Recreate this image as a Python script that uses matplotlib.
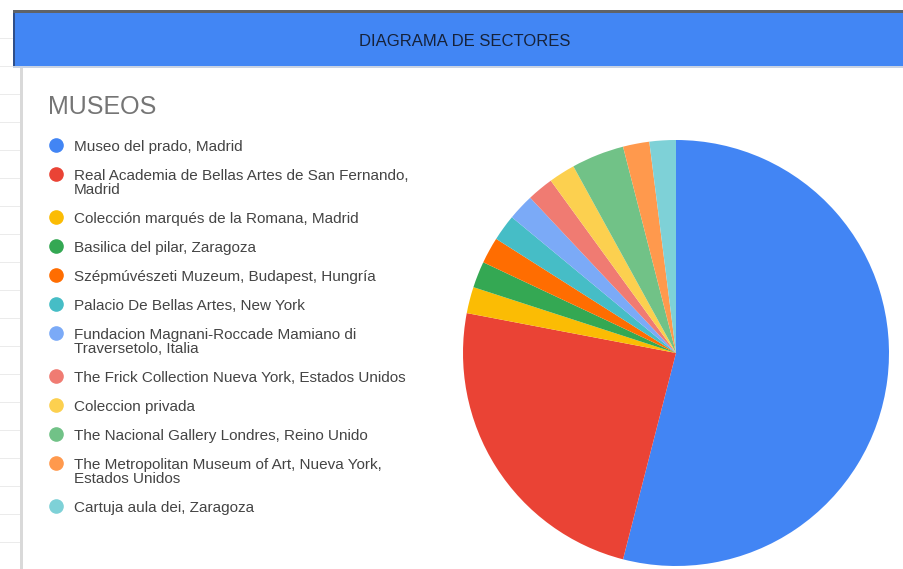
import matplotlib
matplotlib.use("Agg")
import matplotlib.pyplot as plt
from matplotlib.patches import Rectangle

header_title = "DIAGRAMA DE SECTORES"
chart_title = "MUSEOS"
labels = [
    "Museo del prado, Madrid",
    "Real Academia de Bellas Artes de San Fernando,\nMadrid",
    "Colección marqués de la Romana, Madrid",
    "Basilica del pilar, Zaragoza",
    "Szépmúvészeti Muzeum, Budapest, Hungría",
    "Palacio De Bellas Artes, New York",
    "Fundacion Magnani-Roccade Mamiano di\nTraversetolo, Italia",
    "The Frick Collection Nueva York, Estados Unidos",
    "Coleccion privada",
    "The Nacional Gallery Londres, Reino Unido",
    "The Metropolitan Museum of Art, Nueva York,\nEstados Unidos",
    "Cartuja aula dei, Zaragoza",
]
values = [27, 12, 1, 1, 1, 1, 1, 1, 1, 2, 1, 1]
colors = ["#4285F4", "#EA4335", "#FBBC04", "#34A853", "#FF6D01", "#46BDC6",
          "#7BAAF7", "#F07B72", "#FCD04F", "#71C287", "#FF994D", "#7ED1D7"]

W, H = 904, 569
fig = plt.figure(figsize=(W / 100, H / 100), dpi=100)
fig.patch.set_facecolor("white")

def px(x, y):
    return x / W, 1 - y / H

def rect(x0, y0, x1, y1, color, z=1):
    fig.patches.append(Rectangle((x0 / W, 1 - y1 / H), (x1 - x0) / W, (y1 - y0) / H,
                                 transform=fig.transFigure, facecolor=color,
                                 edgecolor="none", zorder=z))

# spreadsheet strip on the left
for gy in range(38, H, 28):
    rect(0, gy, 20, gy + 1, "#ebebeb", 0)
rect(20, 67, 23, H, "#d9d9d9", 1)

# header bar
rect(13, 10, W, 13, "#5f6368", 2)
rect(13, 13, W, 66, "#4286F4", 2)
rect(13, 13, 15, 66, "#2f4f8a", 3)
rect(13, 66, W, 68, "#c9d3e3", 2)
fig.text(*px(465, 42), header_title, ha="center", va="center", fontsize=12,
         color="#16223a", family="Liberation Sans")

# chart title
fig.text(*px(48, 107), chart_title, ha="left", va="center", fontsize=18,
         color="#757575", family="Liberation Sans")

# legend
y = 145
for lab, col in zip(labels, colors):
    fig.lines.append(plt.Line2D([56 / W], [1 - y / H], transform=fig.transFigure,
                                marker="o", markersize=9.5, color=col, linestyle="none"))
    for i, line in enumerate(lab.split("\n")):
        fig.text(*px(74, y + 2 + 14 * i), line, ha="left", va="center", fontsize=11,
                 color="#444444", family="Liberation Sans")
    y += 29 + 14 * lab.count("\n")

# pie
cx, cy, r = 676, 353, 213
ax = fig.add_axes([(cx - r) / W, 1 - (cy + r) / H, 2 * r / W, 2 * r / H])
ax.pie(values, colors=colors, startangle=90, counterclock=False, radius=1,
       wedgeprops=dict(linewidth=0))
ax.set_xlim(-1, 1)
ax.set_ylim(-1, 1)
ax.set_aspect("auto")
ax.axis("off")

fig.savefig("out.png", dpi=100)
